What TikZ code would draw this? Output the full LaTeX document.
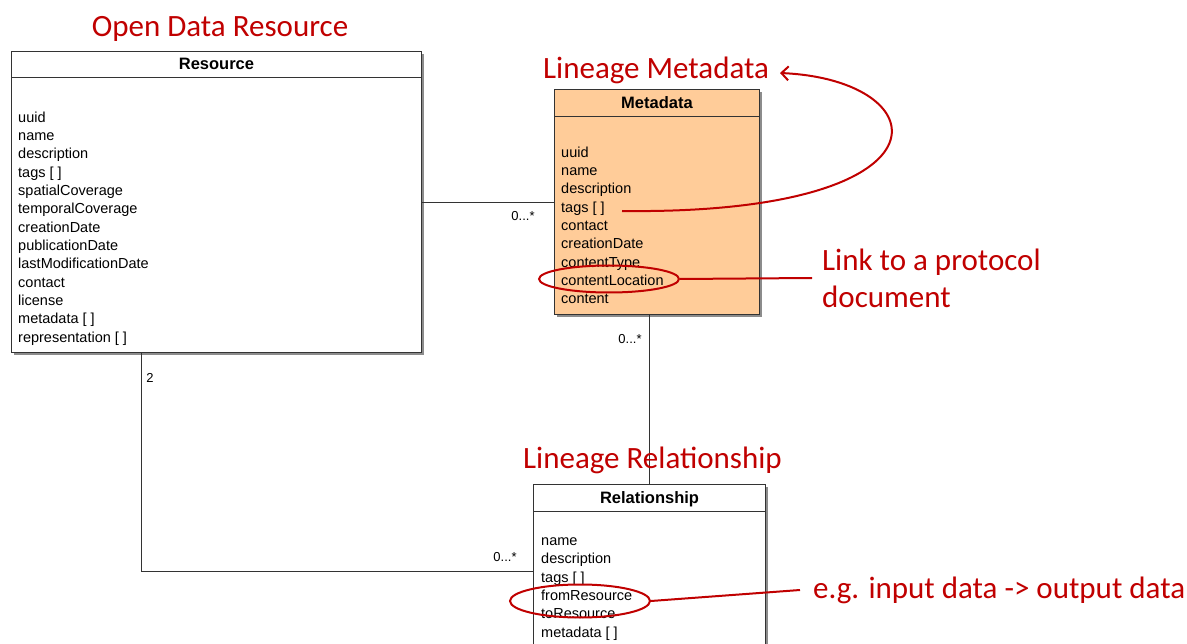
\documentclass[tikz,border=0pt]{standalone}
\usepackage{fontspec}
\setmainfont{Liberation Sans}
\newfontfamily\calib{Carlito}
\definecolor{NoteRed}  {RGB}{192,0,0}
\definecolor{MetaPeach}{RGB}{255,204,153}
\definecolor{UMLLine}  {RGB}{51,51,51}
\usetikzlibrary{arrows.meta,positioning,shadows,shapes.geometric}

\begin{document}
\begin{tikzpicture}[x=1pt,y=-1pt,
  classbox/.style={draw=UMLLine,line width=1pt,fill=white,inner sep=0pt,
              anchor=north west,
              drop shadow={shadow xshift=2.5pt,shadow yshift=-2.5pt,
                           fill=black!45,opacity=1}},
  classtitle/.style={inner sep=0pt,anchor=north,text depth=1pt,
              font=\fontsize{16.5}{18}\selectfont\bfseries},
  attrs/.style={inner sep=0pt,anchor=north west,align=left,
              font=\fontsize{14.5}{18.33}\selectfont},
  mult/.style={inner sep=0pt,font=\fontsize{13}{15}\selectfont},
  conn/.style={draw=UMLLine,line width=0.9pt},
  note/.style={text=NoteRed,inner sep=0pt,
              font=\calib\fontsize{31}{37}\selectfont},
  noteline/.style={draw=NoteRed,line width=2pt},
  noteoval/.style={draw=NoteRed,line width=2pt,ellipse,inner sep=0pt}]
  \useasboundingbox (0,0) rectangle (1187,644);
  \clip (0,0) rectangle (1187,644);

  \node[classbox,minimum width=410pt,minimum height=301pt] (res) at (11,51) {};
  \node[classbox,fill=MetaPeach,minimum width=205pt,minimum height=225pt]
        (meta) at (554,89) {};
  \node[classbox,minimum width=232pt,minimum height=174pt] (rel) at (533,484) {};

  \draw[conn] (res.east)--(meta.west);
  \draw[conn] (rel.north)--(rel.north |- meta.south);
  \draw[conn] ([xshift=130pt]res.south west) |- (rel.west);

  \node[classtitle,minimum width=410pt,minimum height=26pt] (resT)
        at (res.north) {Resource};
  \draw[conn] (resT.south west)--(resT.south east);
  \node[attrs] (resA) at (18,111.5)
        {uuid\\name\\description\\tags [ ]\\spatialCoverage\\temporalCoverage\\
         creationDate\\publicationDate\\lastModificationDate\\contact\\license\\
         metadata [ ]\\representation [ ]};

  \node[classtitle,minimum width=205pt,minimum height=27pt] (metaT)
        at (meta.north) {Metadata};
  \draw[conn] (metaT.south west)--(metaT.south east);
  \node[attrs] (metaA) at (561,146.4)
        {uuid\\name\\description\\tags [ ]\\contact\\creationDate\\contentType\\
         contentLocation\\content};

  \node[classtitle,minimum width=232pt,minimum height=27pt] (relT)
        at (rel.north) {Relationship};
  \draw[conn] (relT.south west)--(relT.south east);
  \node[attrs] (relA) at (541,537.5)
        {name\\description\\tags [ ]\\fromResource\\toResource\\metadata [ ]};

  \node[mult] (m1) at (523,216) {0...*};
  \node[mult] (m2) at (630,339) {0...*};
  \node[mult] (m3) at (505,557) {0...*};
  \node[mult] (m4) at (150,378) {2};

  \node[note] (odrLbl) at (220,29) {Open Data Resource};
  \node[note,anchor=west] (lmLbl) at (543,70) {Lineage Metadata};
  \node[note,anchor=west] (lrLbl) at (523,460) {Lineage Relationship};
  \node[note,anchor=west,align=left,inner xsep=10pt] (linkLbl)
        at (812,278) {Link to a protocol\\document};
  \node[note,anchor=west,inner xsep=13pt] (egLbl)
        at (800,590) {e.g. input data -> output data};

  \node[noteoval,minimum width=140pt,minimum height=27pt] (locOval)
        at (609,279) {};
  \node[noteoval,minimum width=140pt,minimum height=33pt] (ioOval)
        at (580,601) {};
  \draw[noteline] (locOval.east)--(linkLbl.west);
  \draw[noteline] (ioOval.east)--(egLbl.west);

  \coordinate (tagsEnd) at (622,211);
  \coordinate (lmTip) at (780,73);
  \draw[noteline,-{Straight Barb[length=7pt,width=14pt]}]
        (tagsEnd) .. controls (960,215) and (940,80) .. (lmTip);
\end{tikzpicture}
\end{document}
